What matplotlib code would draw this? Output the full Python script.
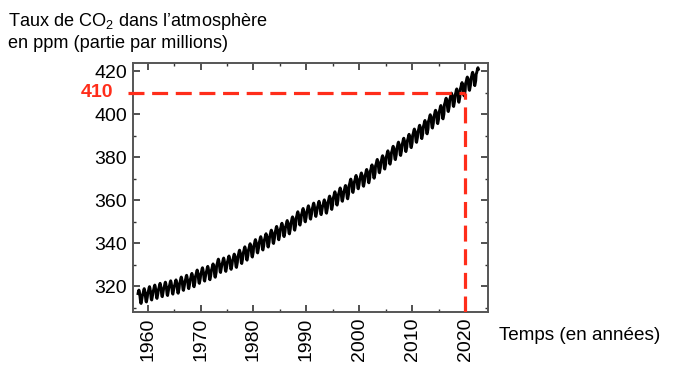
import numpy as np
import matplotlib
matplotlib.use("Agg")
import matplotlib.pyplot as plt
from matplotlib.ticker import MultipleLocator

plt.rcParams['font.family'] = ['Liberation Sans', 'DejaVu Sans']
plt.rcParams['mathtext.fontset'] = 'custom'
plt.rcParams['mathtext.rm'] = 'Liberation Sans'

# annual mean CO2 (ppm), Mauna Loa style curve
years = list(range(1958, 2023))
annual = [315.3, 315.98, 316.91, 317.64, 318.45, 318.99, 319.62, 320.04, 321.37, 322.18,
          323.05, 324.62, 325.68, 326.32, 327.46, 329.68, 330.19, 331.13, 332.03, 333.84,
          335.41, 336.84, 338.76, 340.12, 341.48, 343.15, 344.87, 346.35, 347.61, 349.31,
          351.69, 353.20, 354.45, 355.70, 356.54, 357.21, 358.96, 360.97, 362.74, 363.88,
          366.84, 368.54, 369.71, 371.32, 373.45, 375.98, 377.70, 379.98, 382.09, 384.02,
          385.83, 387.64, 390.10, 391.85, 394.06, 396.74, 398.81, 401.01, 404.41, 406.76,
          408.72, 411.66, 414.24, 416.45, 418.56]
# seasonal offsets Jan..Dec (ppm)
season = [0.0, 0.6, 1.4, 2.5, 3.0, 2.3, 0.8, -1.2, -2.9, -3.2, -2.0, -0.9]
first_month = 3   # March 1958
last_month = 6    # June 2022

t = []
co2 = []
for y, a in zip(years, annual):
    for m in range(1, 13):
        if y == years[0] and m < first_month:
            continue
        if y == years[-1] and m > last_month:
            continue
        t.append(y + (m - 0.5) / 12)
        co2.append(a + season[m - 1])

red = '#ff2d1a'
mark_year = 2020
mark_val = 410
ymin, ymax = 308, 423.6

fig = plt.figure(figsize=(6.76, 3.83), dpi=100)
ax = fig.add_axes([0.1963, 0.1846, 0.525, 0.650])
ax.plot(t, co2, color='black', lw=2.1)

ax.set_xlim(1957.2, 2024.2)
ax.set_ylim(ymin, ymax)

ax.plot([1956.4, mark_year], [mark_val, mark_val], color=red, lw=2.3,
        linestyle=(0, (5, 2.4)), clip_on=False, zorder=3)
ax.plot([mark_year, mark_year], [ymin, mark_val], color=red, lw=2.3,
        linestyle=(0, (5, 2.4)), zorder=3)

ax.xaxis.set_major_locator(MultipleLocator(10))
ax.xaxis.set_minor_locator(MultipleLocator(5))
ax.yaxis.set_major_locator(MultipleLocator(20))
ax.yaxis.set_minor_locator(MultipleLocator(10))
ax.tick_params(which='both', direction='in', top=True, right=True, color='#333333')
ax.tick_params(which='major', length=5, width=1.2, labelsize=14, pad=4)
ax.tick_params(which='minor', length=2.5, width=1.0)
for lab in ax.get_xticklabels():
    lab.set_rotation(90)
for s in ax.spines.values():
    s.set_color('#555555')
    s.set_linewidth(1.4)

ax.text(-0.055, (mark_val - ymin) / (ymax - ymin), '410', transform=ax.transAxes,
        ha='right', va='center', color=red, fontsize=14, fontweight='bold')

fig.text(8 / 676, 1 - 11 / 383, 'Taux de CO$_\\mathrm{2}$ dans l’atmosphère\nen ppm (partie par millions)',
         ha='left', va='top', fontsize=13.1, linespacing=1.25)
fig.text(499 / 676, 1 - 335 / 383, 'Temps (en années)', ha='left', va='center', fontsize=13.6)

fig.savefig('out.png', dpi=100)
